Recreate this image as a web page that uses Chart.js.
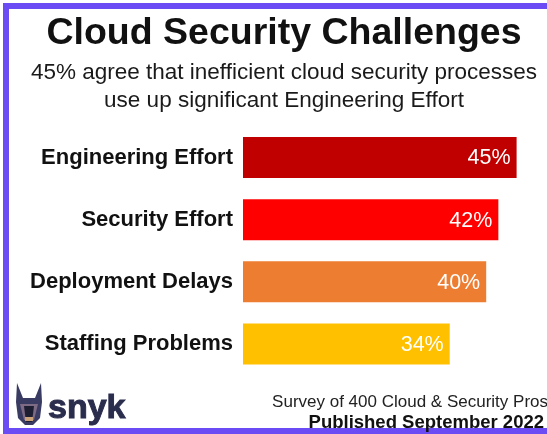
<!DOCTYPE html>
<html>
<head>
<meta charset="utf-8">
<script src="https://cdn.jsdelivr.net/npm/chart.js@4"></script>
<style>
  html,body{margin:0;padding:0;background:#fff;}
  #wrap{width:547px;height:434px;position:relative;}
</style>
</head>
<body>
<div id="wrap"><canvas id="c" width="547" height="434"></canvas></div>
<script>
const categories = ["Engineering Effort", "Security Effort", "Deployment Delays", "Staffing Problems"];
const values = [45, 42, 40, 34];
const valueLabels = ["45%", "42%", "40%", "34%"];
const titleText = "Cloud Security Challenges";
const subtitleLines = ["45% agree that inefficient cloud security processes", "use up significant Engineering Effort"];
const footerLines = ["Survey of 400 Cloud & Security Pros", "Published September 2022"];
const brandText = "snyk";

const barColors = ["#c00000", "#ff0000", "#ed7d31", "#ffc000"];
const FONT = "Arial, 'Liberation Sans', sans-serif";

const decor = {
  id: 'decor',
  beforeDraw(chart) {
    const ctx = chart.ctx;
    ctx.save();
    ctx.fillStyle = '#fff';
    ctx.fillRect(0, 0, chart.width, chart.height);
    ctx.restore();
  },
  afterDraw(chart) {
    const ctx = chart.ctx;
    ctx.save();
    // frame
    ctx.strokeStyle = '#6b4bf3';
    ctx.lineWidth = 6;
    ctx.strokeRect(6, 6, 700, 425);
    // title
    ctx.fillStyle = '#111';
    ctx.textAlign = 'center';
    ctx.textBaseline = 'alphabetic';
    ctx.font = 'bold 37.5px ' + FONT;
    ctx.fillText(titleText, 284, 44);
    ctx.font = '22.5px ' + FONT;
    ctx.fillStyle = '#1a1a1a';
    ctx.fillText(subtitleLines[0], 284, 79);
    ctx.fillText(subtitleLines[1], 284, 107);
    // footer right
    ctx.textAlign = 'right';
    ctx.font = '17px ' + FONT;
    ctx.fillStyle = '#222';
    ctx.fillText(footerLines[0], 548, 407);
    ctx.font = 'bold 18.5px ' + FONT;
    ctx.fillStyle = '#111';
    ctx.fillText(footerLines[1], 544, 428);
    // snyk logo icon (simplified dog head)
    ctx.fillStyle = '#3a3b63';
    ctx.beginPath();
    ctx.moveTo(17, 383);
    ctx.lineTo(23, 398);
    ctx.lineTo(35, 398);
    ctx.lineTo(41, 383);
    ctx.lineTo(42, 402);
    ctx.lineTo(40, 418);
    ctx.lineTo(33, 425);
    ctx.lineTo(25, 425);
    ctx.lineTo(18, 418);
    ctx.lineTo(16, 402);
    ctx.closePath();
    ctx.fill();
    ctx.fillStyle = '#7d6a85';
    ctx.beginPath();
    ctx.moveTo(20, 404);
    ctx.lineTo(38, 404);
    ctx.lineTo(34, 420);
    ctx.lineTo(24, 420);
    ctx.closePath();
    ctx.fill();
    ctx.fillStyle = '#1e1e33';
    ctx.beginPath();
    ctx.moveTo(24, 406);
    ctx.lineTo(34, 406);
    ctx.lineTo(32, 422);
    ctx.lineTo(26, 422);
    ctx.closePath();
    ctx.fill();
    ctx.fillStyle = '#c9a27a';
    ctx.fillRect(25, 417, 8, 4);
    // snyk text
    ctx.textAlign = 'left';
    ctx.fillStyle = '#2b2d4d';
    ctx.strokeStyle = '#2b2d4d';
    ctx.lineWidth = 1;
    ctx.font = 'bold 34px ' + FONT;
    ctx.fillText(brandText, 48, 418);
    ctx.strokeText(brandText, 48, 418);
    // value labels
    const meta = chart.getDatasetMeta(0);
    ctx.fillStyle = '#ffffff';
    ctx.textAlign = 'right';
    ctx.textBaseline = 'middle';
    ctx.font = '21.5px ' + FONT;
    meta.data.forEach((bar, i) => {
      ctx.fillText(valueLabels[i], bar.x - 6, bar.y + 1);
    });
    ctx.restore();
  }
};

new Chart(document.getElementById('c'), {
  type: 'bar',
  data: {
    labels: categories,
    datasets: [{
      data: values,
      backgroundColor: barColors,
      borderWidth: 0,
      barPercentage: 0.66,
      categoryPercentage: 1.0
    }]
  },
  options: {
    indexAxis: 'y',
    responsive: false,
    animation: false,
    devicePixelRatio: 1,
    layout: { padding: { top: 126.5, bottom: 59, left: 0, right: 0 } },
    plugins: { legend: { display: false }, tooltip: { enabled: false }, title: { display: false } },
    scales: {
      x: { display: false, min: 0, max: 50 },
      y: {
        grid: { display: false, drawTicks: false },
        border: { display: false },
        ticks: { color: '#111', font: { family: FONT, size: 22, weight: 'bold' }, padding: 10 },
        afterFit(scale) { scale.width = 243; }
      }
    }
  },
  plugins: [decor]
});
</script>
</body>
</html>
